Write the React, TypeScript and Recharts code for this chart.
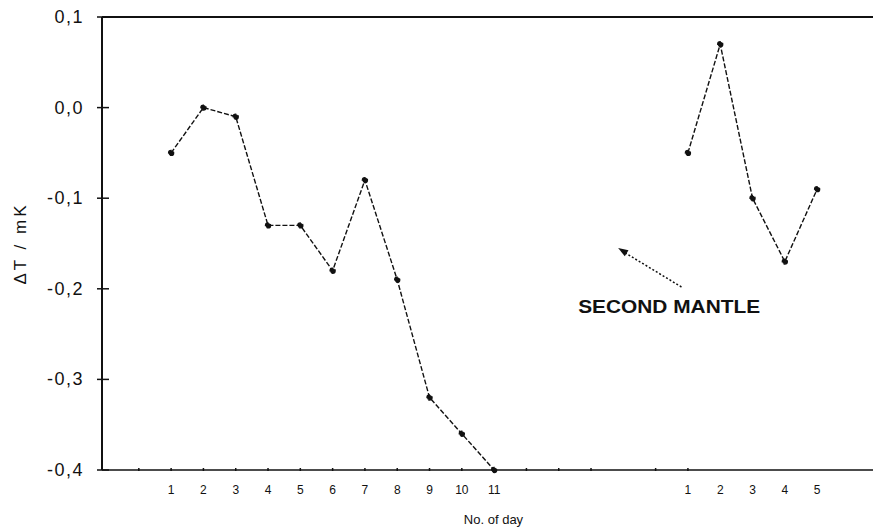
import { LineChart, Line, XAxis, YAxis, ReferenceLine, ReferenceDot } from "recharts";

// first mantle: days 1..11, second mantle: days 1..5 (placed after a gap)
const firstDays = [1, 2, 3, 4, 5, 6, 7, 8, 9, 10, 11];
const firstDT = [-0.05, 0.0, -0.01, -0.13, -0.13, -0.18, -0.08, -0.19, -0.32, -0.36, -0.4];
const secondDays = [1, 2, 3, 4, 5];
const secondDT = [-0.05, 0.07, -0.1, -0.17, -0.09];
const secondStart = 16; // slot before second mantle's day 1

const yTicks = [0.1, 0, -0.1, -0.2, -0.3, -0.4];
const tickSlots = [0, 1, 2, 3, 4, 5, 6, 7, 8, 9, 10, 11, 12, 13, 14, 15, 16, 17, 18, 19, 20, 21];
const markedSlots = [0, 1, 2, 3, 4, 5, 6, 7, 8, 9, 10, 11, 12, 13, 14, 16, 17];

const firstData = firstDays.map((d, i) => ({ pos: d, dt: firstDT[i], day: d }));
const secondData = secondDays.map((d, i) => ({ pos: secondStart + d, dt: secondDT[i], day: d }));

const labelFor: Record<number, string> = {};
firstData.forEach((r) => (labelFor[r.pos] = String(r.day)));
secondData.forEach((r) => (labelFor[r.pos] = String(r.day)));

const font = "'Liberation Sans', Arial, sans-serif";

const fmt = (v: number) => v.toFixed(1).replace(".", ",");

function XTick(props: any) {
  const { x, y, payload } = props;
  const v = payload.value as number;
  const axisY = y - 8;
  return (
    <g>
      {markedSlots.includes(v) && (
        <line x1={x} x2={x} y1={axisY - 2} y2={axisY + 1} stroke="#111" strokeWidth={1.5} />
      )}
      {labelFor[v] && (
        <text x={x} y={axisY + 24} textAnchor="middle" fontSize={12} fontFamily={font} fill="#111">
          {labelFor[v]}
        </text>
      )}
    </g>
  );
}

function YTick(props: any) {
  const { x, y, payload } = props;
  return (
    <g>
      <line x1={x + 13} x2={x + 25} y1={y} y2={y} stroke="#111" strokeWidth={1.5} />
      <text x={x} y={y} dy={6} textAnchor="end" fontSize={18} letterSpacing={1.5} fontFamily={font} fill="#111">
        {fmt(payload.value)}
      </text>
    </g>
  );
}

function ArrowHead(props: any) {
  const { cx, cy } = props;
  return (
    <polygon
      points="0,0 -10,-3.5 -10,3.5"
      transform={`translate(${cx},${cy}) rotate(212)`}
      fill="#111"
    />
  );
}

function Note(props: any) {
  const { cx, cy } = props;
  return (
    <text x={cx} y={cy} dy={7} textAnchor="middle" fontSize={19} fontWeight="bold" fontFamily={font} fill="#111" textLength={182} lengthAdjust="spacingAndGlyphs">
      SECOND MANTLE
    </text>
  );
}

export default function App() {
  return (
    <div style={{ position: "absolute", left: 0, top: 0, background: "#fff" }}>
      <LineChart width={873} height={529} margin={{ top: 17, right: 0, bottom: 0, left: 0 }}>
        <XAxis
          type="number"
          dataKey="pos"
          domain={[-1.14, 22.73]}
          allowDataOverflow
          ticks={tickSlots}
          interval={0}
          tick={<XTick />}
          tickLine={false}
          tickSize={0}
          tickMargin={8}
          height={59}
          axisLine={{ stroke: "#111", strokeWidth: 1.5 }}
          label={{ value: "No. of day", position: "insideBottom", offset: 5, dx: 6, fontSize: 13, fontFamily: font, fill: "#111" }}
        />
        <YAxis
          type="number"
          domain={[-0.4, 0.1]}
          ticks={yTicks}
          interval={0}
          width={102}
          tick={<YTick />}
          tickLine={false}
          tickSize={5}
          tickMargin={13}
          axisLine={{ stroke: "#111", strokeWidth: 2 }}
          label={{
            content: ({ viewBox }: any) => (
              <text
                transform={`translate(${viewBox.x + 26},${viewBox.y + viewBox.height / 2}) rotate(-90)`}
                textAnchor="middle"
                fontSize={17}
                letterSpacing={3}
                fontFamily={font}
                fill="#111"
              >
                ΔT / mK
              </text>
            ),
          }}
        />
        <ReferenceLine y={0.1} stroke="#111" strokeWidth={2} />
        <ReferenceLine
          segment={[{ x: 16.8, y: -0.198 }, { x: 14.95, y: -0.158 }]}
          stroke="#111"
          strokeWidth={1.5}
          strokeDasharray="2 2"
          ifOverflow="visible"
        />
        <ReferenceDot x={14.84} y={-0.155} r={0} shape={<ArrowHead />} ifOverflow="visible" />
        <ReferenceDot x={16.42} y={-0.219} r={0} shape={<Note />} ifOverflow="visible" />
        <Line
          data={firstData}
          dataKey="dt"
          stroke="#111"
          strokeWidth={1.4}
          strokeDasharray="5 2"
          dot={{ r: 2.5, fill: "#111", stroke: "#111" }}
          isAnimationActive={false}
        />
        <Line
          data={secondData}
          dataKey="dt"
          stroke="#111"
          strokeWidth={1.4}
          strokeDasharray="5 2"
          dot={{ r: 2.5, fill: "#111", stroke: "#111" }}
          isAnimationActive={false}
        />
      </LineChart>
    </div>
  );
}
